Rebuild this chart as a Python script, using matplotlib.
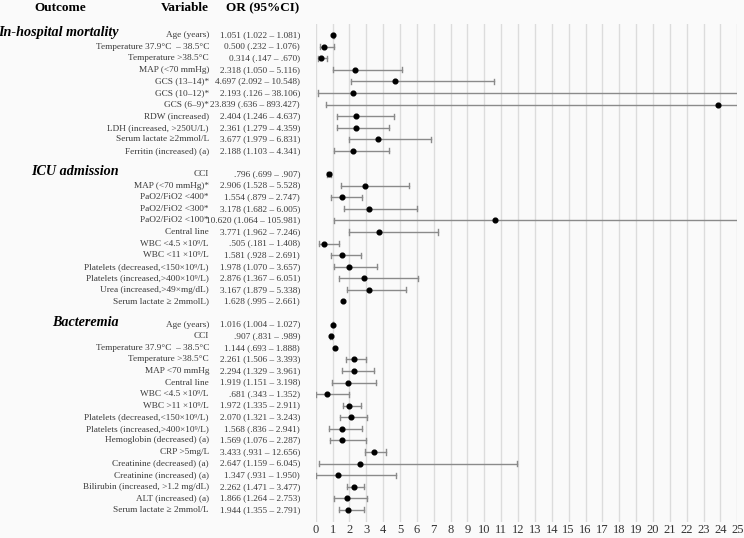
import numpy as np
import matplotlib
matplotlib.use("Agg")
import matplotlib.pyplot as plt
import matplotlib.transforms as mtransforms

SERIF = ["Liberation Serif", "DejaVu Serif"]
plt.rcParams["font.family"] = SERIF

# ---- data (OR point + whiskers as drawn; None = no whisker drawn) ----
groups = ["In-hospital mortality", "ICU admission", "Bacteremia"]

mort_labels = ["Age (years)", "Temperature 37.9°C  – 38.5°C", "Temperature >38.5°C",
               "MAP (<70 mmHg)", "GCS (13–14)*", "GCS (10–12)*", "GCS (6–9)*",
               "RDW (increased)", "LDH (increased, >250U/L)", "Serum lactate ≥2mmol/L",
               "Ferritin (increased) (a)"]
mort_text = ["1.051 (1.022 – 1.081)", "0.500 (.232 – 1.076)", "0.314 (.147 – .670)",
             "2.318 (1.050 – 5.116)", "4.697 (2.092 – 10.548)", "2.193 (.126 – 38.106)",
             "23.839 (.636 – 893.427)", "2.404 (1.246 – 4.637)", "2.361 (1.279 – 4.359)",
             "3.677 (1.979 – 6.831)", "2.188 (1.103 – 4.341)"]
mort_or = [1.051, 0.500, 0.314, 2.318, 4.697, 2.193, 23.839, 2.404, 2.361, 3.677, 2.188]
mort_lo = [1.022, 0.232, 0.147, 1.050, 2.092, 0.126, 0.636, 1.246, 1.279, 1.979, 1.103]
mort_hi = [1.081, 1.076, 0.670, 5.116, 10.548, 38.106, 893.427, 4.637, 4.359, 6.831, 4.341]

icu_labels = ["CCI", "MAP (<70 mmHg)*", "PaO2/FiO2 <400*", "PaO2/FiO2 <300*", "PaO2/FiO2 <100*",
              "Central line", "WBC <4.5 ×10⁹/L", "WBC <11 ×10⁹/L",
              "Platelets (decreased,<150×10⁹/L)", "Platelets (increased,>400×10⁹/L)",
              "Urea (increased,>49×mg/dL)", "Serum lactate ≥ 2mmolL)"]
icu_text = [".796 (.699 – .907)", "2.906 (1.528 – 5.528)", "1.554 (.879 – 2.747)",
            "3.178 (1.682 – 6.005)", "10.620 (1.064 – 105.981)", "3.771 (1.962 – 7.246)",
            ".505 (.181 – 1.408)", "1.581 (.928 – 2.691)", "1.978 (1.070 – 3.657)",
            "2.876 (1.367 – 6.051)", "3.167 (1.879 – 5.338)", "1.628 (.995 – 2.661)"]
icu_or = [0.796, 2.906, 1.554, 3.178, 10.620, 3.771, 0.505, 1.581, 1.978, 2.876, 3.167, 1.628]
icu_lo = [0.699, 1.528, 0.879, 1.682, 1.064, 1.962, 0.181, 0.928, 1.070, 1.367, 1.879, None]
icu_hi = [0.907, 5.528, 2.747, 6.005, 105.981, 7.246, 1.408, 2.691, 3.657, 6.051, 5.338, None]

bact_labels = ["Age (years)", "CCI", "Temperature 37.9°C  – 38.5°C", "Temperature >38.5°C",
               "MAP <70 mmHg", "Central line", "WBC <4.5 ×10⁹/L", "WBC >11 ×10⁹/L",
               "Platelets (decreased,<150×10⁹/L)", "Platelets (increased,>400×10⁹/L)",
               "Hemoglobin (decreased) (a)", "CRP >5mg/L", "Creatinine (decreased) (a)",
               "Creatinine (increased) (a)", "Bilirubin (increased, >1.2 mg/dL)",
               "ALT (increased) (a)", "Serum lactate ≥ 2mmol/L"]
bact_text = ["1.016 (1.004 – 1.027)", ".907 (.831 – .989)", "1.144 (.693 – 1.888)",
             "2.261 (1.506 – 3.393)", "2.294 (1.329 – 3.961)", "1.919 (1.151 – 3.198)",
             ".681 (.343 – 1.352)", "1.972 (1.335 – 2.911)", "2.070 (1.321 – 3.243)",
             "1.568 (.836 – 2.941)", "1.569 (1.076 – 2.287)", "3.433 (.931 – 12.656)",
             "2.647 (1.159 – 6.045)", "1.347 (.931 – 1.950)", "2.262 (1.471 – 3.477)",
             "1.866 (1.264 – 2.753)", "1.944 (1.355 – 2.791)"]
bact_or = [1.016, 0.907, 1.144, 2.261, 2.294, 1.919, 0.681, 1.972, 2.070, 1.568, 1.569,
           3.433, 2.647, 1.347, 2.262, 1.866, 1.944]
bact_lo = [1.004, 0.831, None, 1.81, 1.54, 0.95, 0.0, 1.63, 1.46, 0.80, 0.86,
           2.93, 0.20, 0.0, 1.87, 1.10, 1.36]
bact_hi = [1.027, 0.989, None, 3.00, 3.47, 3.60, 1.95, 2.70, 3.05, 2.76, 2.96,
           4.16, 11.92, 4.75, 2.86, 3.07, 2.87]

blocks = [(mort_labels, mort_text, mort_or, mort_lo, mort_hi),
          (icu_labels, icu_text, icu_or, icu_lo, icu_hi),
          (bact_labels, bact_text, bact_or, bact_lo, bact_hi)]

# ---- figure ----
W, H = 744, 538
fig = plt.figure(figsize=(W / 100, H / 100), dpi=100, facecolor="#fafafa")
ax_l, ax_r, ax_t, ax_b = 315.7, 737.3, 23.5, 521.5
ax = fig.add_axes([ax_l / W, 1 - ax_b / H, (ax_r - ax_l) / W, (ax_b - ax_t) / H])
ax.set_facecolor("#fafafa")

trans = mtransforms.blended_transform_factory(fig.transFigure, ax.transData)
txt_col = "#3a3a3a"

row = 0
for gi, (labs, txts, ors, los, his) in enumerate(blocks):
    fig.text(119 / W, row - 0.2, groups[gi], transform=trans, ha="right", va="center",
             fontsize=10.2, fontweight="bold", fontstyle="italic", color="black")
    for lab, t, o, lo, hi in zip(labs, txts, ors, los, his):
        fig.text(209 / W, row, lab, transform=trans, ha="right", va="center",
                 fontsize=6.7, color=txt_col)
        fig.text(300 / W, row, t, transform=trans, ha="right", va="center",
                 fontsize=6.7, color=txt_col)
        if lo is not None:
            ax.plot([lo, hi], [row, row], color="#8a8a8a", lw=1.0, zorder=2)
            for cx in (lo, hi):
                if cx <= 25:
                    ax.plot([cx, cx], [row - 0.22, row + 0.22], color="#8a8a8a", lw=1.0, zorder=2)
        ax.plot(o, row, "o", color="black", ms=3.4, zorder=3)
        row += 1
    row += 1

ax.set_xlim(0, 25)
ax.set_ylim(42, -1)
ax.set_xticks(np.arange(0, 26))
ax.set_yticks([])
ax.grid(axis="x", color="#dcdcdc", lw=1.0)
ax.set_axisbelow(True)
for s in ax.spines.values():
    s.set_visible(False)
ax.tick_params(axis="x", length=0, pad=2, labelsize=9, labelcolor="#333333")

# headers
fig.text(60 / W, 1 - 8 / H, "Outcome", ha="center", va="center", fontsize=9.5, fontweight="bold")
fig.text(209 / W, 1 - 8 / H, "Variable", ha="right", va="center", fontsize=9.5, fontweight="bold")
fig.text(299 / W, 1 - 8 / H, "OR (95%CI)", ha="right", va="center", fontsize=9.5, fontweight="bold")

fig.savefig("out.png", dpi=100, facecolor=fig.get_facecolor())
